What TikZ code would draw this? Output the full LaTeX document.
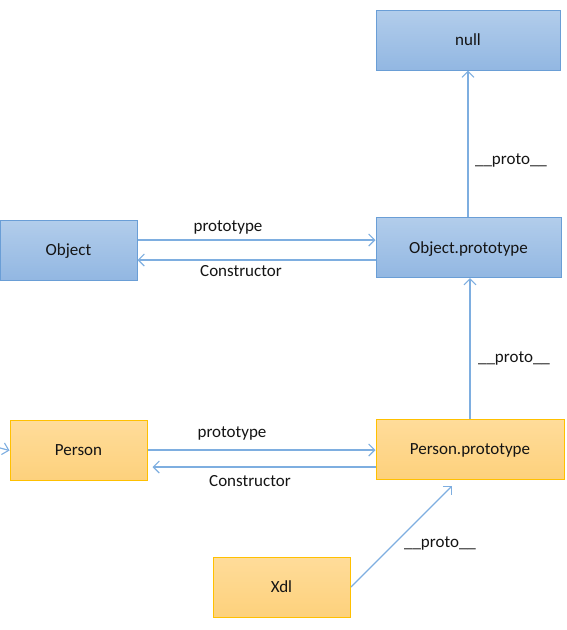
\documentclass[tikz,border=0pt]{standalone}
\usepackage{fontspec}
\setmainfont{Carlito}
\usetikzlibrary{arrows.meta}
\definecolor{bluetop}{HTML}{B2CDEB}
\definecolor{bluebot}{HTML}{92B7E2}
\definecolor{blueline}{HTML}{6A9ED6}
\definecolor{orgtop}{HTML}{FFDC9A}
\definecolor{orgbot}{HTML}{FDD17C}
\definecolor{orgline}{HTML}{FFC000}
\definecolor{arrowc}{HTML}{7EAEE0}
\definecolor{txt}{HTML}{141414}
\tikzset{
  bluebox/.style={draw=blueline, line width=1pt, top color=bluetop, bottom color=bluebot,
    minimum height=60pt, inner sep=0pt, text depth=0pt, text=txt, font=\fontsize{17}{20}\selectfont},
  orgbox/.style={draw=orgline, line width=1pt, top color=orgtop, bottom color=orgbot,
    minimum height=60pt, inner sep=0pt, text depth=0pt, text=txt, font=\fontsize{17}{20}\selectfont},
  link/.style={draw=arrowc, line width=1.2pt, -{Straight Barb[length=6pt,width=12pt,line width=1.1pt]}},
  lab/.style={text=txt, font=\fontsize{17}{20}\selectfont, inner sep=0pt}
}
\begin{document}
\begin{tikzpicture}[x=1pt,y=-1pt]
\useasboundingbox (0,0) rectangle (567,630);
\clip (0,0) rectangle (567,630);
\node[bluebox, minimum width=184pt] (null) at (468,40) {null};
\node[bluebox, minimum width=137pt] (obj) at (68.5,250) {Object};
\node[bluebox, minimum width=185pt] (objp) at (468.5,247.5) {Object.prototype};
\node[orgbox, minimum width=137pt] (per) at (78.5,450.5) {Person};
\node[orgbox, minimum width=188pt] (perp) at (470,449.5) {Person.prototype};
\node[orgbox, minimum width=137pt] (xdl) at (281.5,587) {Xdl};
\coordinate (offl) at (-60,432);
% vertical proto links
\draw[link] (objp.north -| 468,0) -- (null.south -| 468,0);
\draw[link] (perp.north -| 470,0) -- (objp.south -| 470,0);
\node[lab] (l1) at (511,160) {\_\_proto\_\_};
\node[lab] (l2) at (514,358) {\_\_proto\_\_};
% Object <-> Object.prototype
\draw[link] (obj.east |- 0,240) -- (objp.west |- 0,240);
\draw[link] (objp.west |- 0,260) -- (obj.east |- 0,260);
\node[lab] (l3) at (228,227) {prototype};
\node[lab] (l4) at (241,271) {Constructor};
% Person <-> Person.prototype
\draw[link] (per.east |- 0,450) -- (perp.west |- 0,450);
\draw[link] (perp.west |- 0,467) -- ([xshift=5pt]per.east |- 0,467);
\node[lab] (l5) at (232,433) {prototype};
\node[lab] (l6) at (250,481) {Constructor};
% Xdl -> Person.prototype
\coordinate (xs) at (351,587);
\coordinate (xe) at (452,486);
\draw[link] (xs) -- (xe);
\node[lab] (l7) at (440,543) {\_\_proto\_\_};
% fragment from left
\draw[link] (offl) -- (per.west);
\end{tikzpicture}
\end{document}
